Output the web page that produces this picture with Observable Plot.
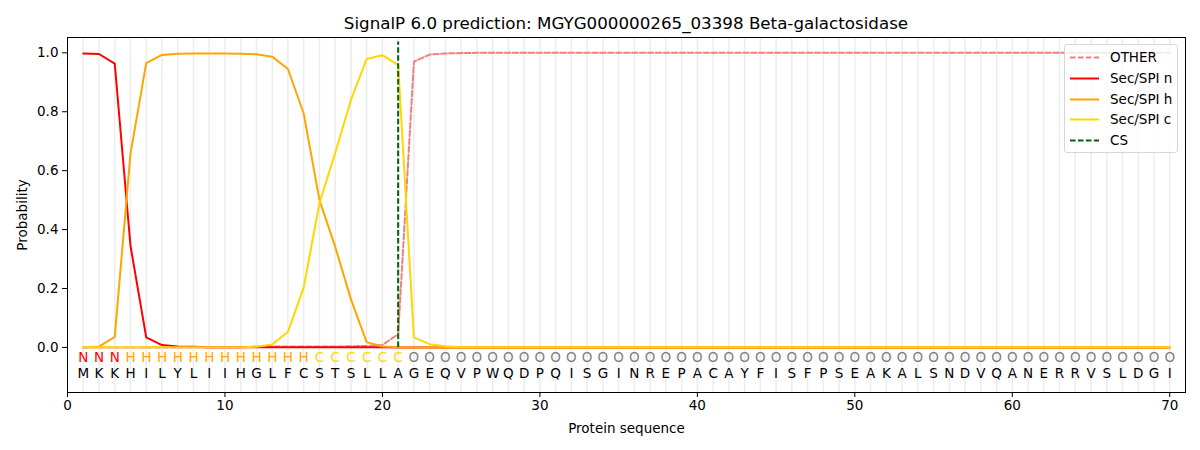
<!DOCTYPE html>
<html><head><meta charset="utf-8">
<script src="https://cdn.jsdelivr.net/npm/d3@7"></script>
<script src="https://cdn.jsdelivr.net/npm/@observablehq/plot@0.6"></script>
<style>
body{margin:0;background:#fff;font-family:"DejaVu Sans",sans-serif;}
#wrap{position:relative;width:1200px;height:450px;overflow:hidden;}
#title{position:absolute;left:67px;width:1118px;top:13px;line-height:20px;text-align:center;font-size:16.7px;color:#000;}
#legend{position:absolute;left:1064px;top:44px;width:112px;height:107px;border:1px solid #d6d6d6;border-radius:3px;background:rgba(255,255,255,0.8);}
.row{position:absolute;left:0;height:20px;width:112px;font-size:13.5px;line-height:20px;}
.row svg{position:absolute;left:4px;top:0;}
.row span{position:absolute;left:45px;top:0;}
</style></head><body>
<div id="wrap"><div id="chart"></div><div id="title">SignalP 6.0 prediction: MGYG000000265_03398 Beta-galactosidase</div><div id="legend"></div></div>
<script>
const sequence = "MKKHILYLIIHGLFCSTSLLAGEQVPWQDPQISGINREPACAYFISFPSEAKALSNDVQANERRVSLDGI".split("");
const labels = "NNNHHHHHHHHHHHHCCCCCCOOOOOOOOOOOOOOOOOOOOOOOOOOOOOOOOOOOOOOOOOOOOOOOOO".split("");
const positions = sequence.map((_, i) => i + 1);
const other = [0,0,0,0,0,0,0,0,0,0,0,0.003,0.003,0.003,0.003,0.003,0.003,0.004,0.005,0.008,0.045,0.97,0.994,0.998,0.999,
 1,1,1,1,1,1,1,1,1,1,1,1,1,1,1,1,1,1,1,1,1,1,1,1,1,1,1,1,1,1,1,1,1,1,1,1,1,1,1,1,1,1,1,1,1];
const secN = [0.998,0.996,0.963,0.345,0.034,0.008,0.003,0.002,0.001,0.001,0.001,0.001,0.001,0.001,0.001,0.001,0.001,0.001,0.001,0.001,
 0,0,0,0,0,0,0,0,0,0,0,0,0,0,0,0,0,0,0,0,0,0,0,0,0,0,0,0,0,0,0,0,0,0,0,0,0,0,0,0,0,0,0,0,0,0,0,0,0,0];
const secH = [0,0.003,0.036,0.658,0.965,0.993,0.997,0.998,0.998,0.998,0.997,0.995,0.987,0.945,0.794,0.5,0.342,0.163,0.018,0.003,0.001,
 0,0,0,0,0,0,0,0,0,0,0,0,0,0,0,0,0,0,0,0,0,0,0,0,0,0,0,0,0,0,0,0,0,0,0,0,0,0,0,0,0,0,0,0,0,0,0,0,0];
const secC = [0.001,0.001,0.001,0.001,0.001,0.001,0.001,0.001,0.001,0.001,0.001,0.002,0.01,0.053,0.204,0.49,0.66,0.84,0.979,0.992,0.958,0.034,0.011,0.004,
 0.001,0.001,0.001,0.001,0.001,0.001,0.001,0.001,0.001,0.001,0.001,0.001,0.001,0.001,0.001,0.001,0.001,0.001,0.001,0.001,0.001,0.001,0.001,0.001,0.001,0.001,
 0.001,0.001,0.001,0.001,0.001,0.001,0.001,0.001,0.001,0.001,0.001,0.001,0.001,0.001,0.001,0.001,0.001,0.001,0.001,0.001];
const csPosition = [21];
const csTop = 1.037;
const xTicks = [0, 10, 20, 30, 40, 50, 60, 70];
const yTicks = [0, 0.2, 0.4, 0.6, 0.8, 1.0];
const seriesNames = ["OTHER", "Sec/SPI n", "Sec/SPI h", "Sec/SPI c", "CS"];
const seriesColors = ["#f08080", "#ff0000", "#ffa500", "#ffd700", "#006400"];
const labelColors = {N: "#ff0000", H: "#ffa500", C: "#ffd700", O: "#808080"};
const dash = "5.55,2.4";

const chart = Plot.plot({
  width: 1200, height: 450,
  marginLeft: 67, marginRight: 15, marginTop: 37, marginBottom: 58,
  style: {fontFamily: '"DejaVu Sans", sans-serif', fontSize: "13.5px", background: "white", color: "black", overflow: "visible"},
  x: {domain: [0, 71]},
  y: {domain: [-0.153, 1.052]},
  color: {type: "identity"},
  marks: [
    Plot.ruleX(positions, {x: d => d, stroke: "#ececec", strokeWidth: 1.5}),
    Plot.lineY(other, {x: positions, y: d => d, stroke: seriesColors[0], strokeWidth: 2, strokeDasharray: dash}),
    Plot.lineY(secN, {x: positions, y: d => d, stroke: seriesColors[1], strokeWidth: 2}),
    Plot.lineY(secH, {x: positions, y: d => d, stroke: seriesColors[2], strokeWidth: 2}),
    Plot.lineY(secC, {x: positions, y: d => d, stroke: seriesColors[3], strokeWidth: 2}),
    Plot.ruleX(csPosition, {x: d => d, y1: 0, y2: csTop, stroke: seriesColors[4], strokeWidth: 2, strokeDasharray: dash}),
    Plot.text(labels, {x: positions, text: d => d, frameAnchor: "bottom", dy: -31, fill: labels.map(l => labelColors[l]), fontSize: 13.5}),
    Plot.text(sequence, {x: positions, text: d => d, frameAnchor: "bottom", dy: -15, fill: "black", fontSize: 13.5}),
    Plot.frame({stroke: "black", strokeWidth: 1}),
    Plot.axisX({ticks: xTicks, tickFormat: d => String(d), tickSize: 5, tickPadding: 3, label: "Protein sequence", labelAnchor: "center", labelOffset: 40, labelArrow: "none"}),
    Plot.axisY({ticks: yTicks, tickFormat: d3.format(".1f"), tickSize: 5, tickPadding: 4, label: "Probability", labelAnchor: "center", labelOffset: 50, labelArrow: "none"})
  ]
});
document.getElementById("chart").appendChild(chart);

const legend = document.getElementById("legend");
seriesNames.forEach((name, i) => {
  const row = document.createElement("div");
  row.className = "row";
  row.style.top = (2 + i * 20.8) + "px";
  const dashed = (i === 0 || i === 4);
  row.innerHTML = `<svg width="32" height="20"><line x1="1" y1="10.5" x2="30" y2="10.5" stroke="${seriesColors[i]}" stroke-width="2" ${dashed ? `stroke-dasharray="${dash}"` : ""}/></svg><span>${name}</span>`;
  legend.appendChild(row);
});
</script>
</body></html>
